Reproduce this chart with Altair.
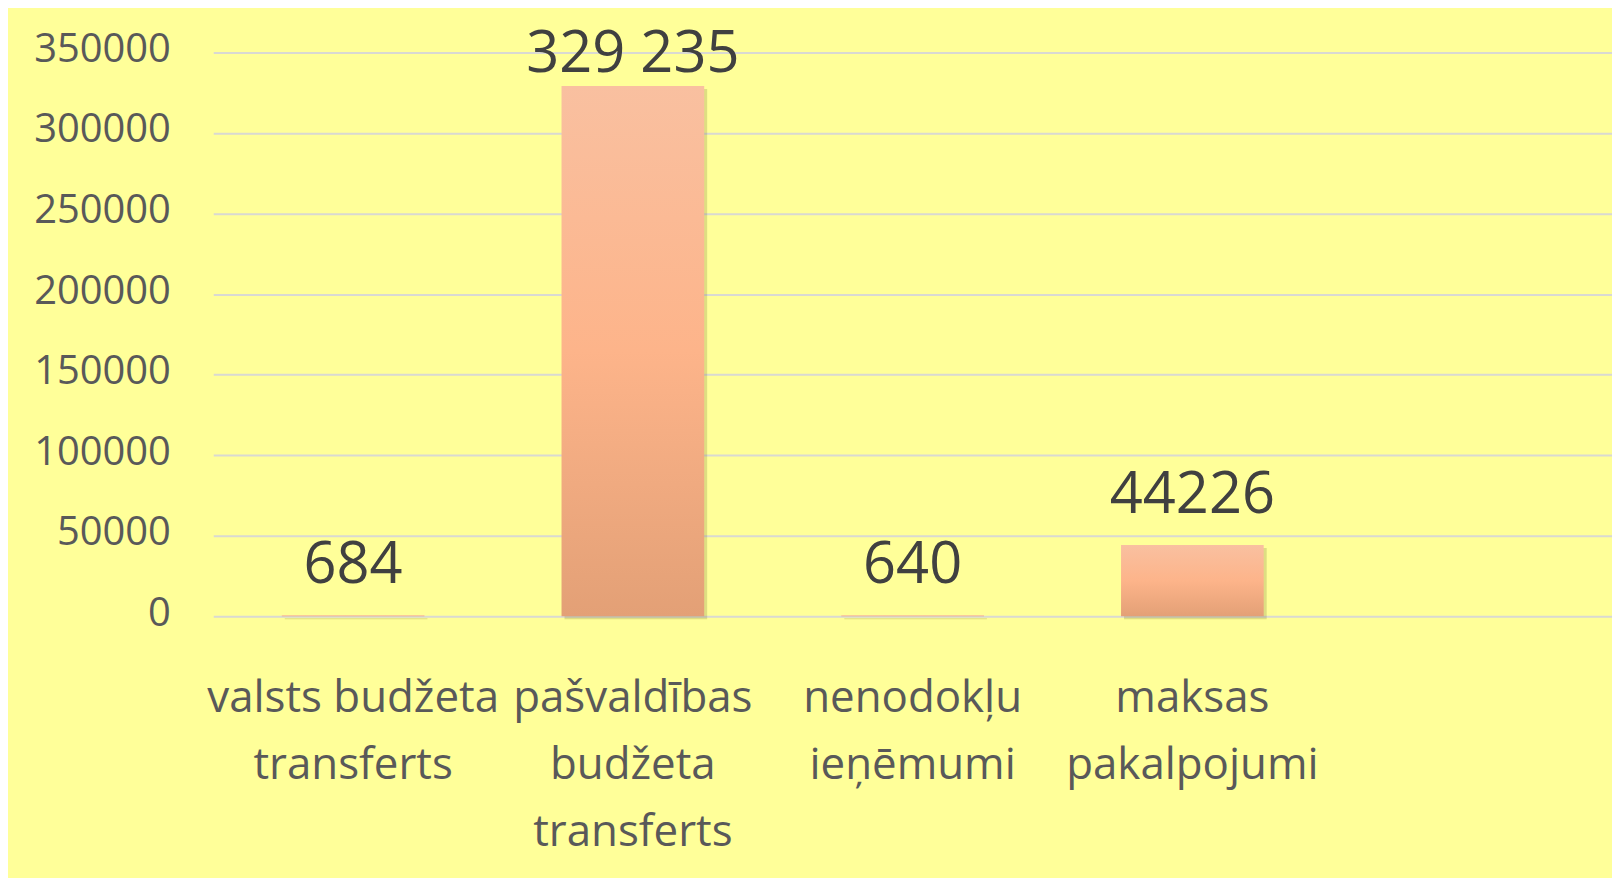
import altair as alt
import pandas as pd

categories = [
    "valsts budžeta\ntransferts",
    "pašvaldības\nbudžeta\ntransferts",
    "nenodokļu\nieņēmumi",
    "maksas\npakalpojumi",
    " ",
]
values = [684, 329235, 640, 44226]
value_labels = ["684", "329 235", "640", "44226"]
y_ticks = [0, 50000, 100000, 150000, 200000, 250000, 300000, 350000]

df = pd.DataFrame({
    "category": categories[:4],
    "value": values,
    "label": value_labels,
})

FONT = "Open Sans"

x_enc = alt.X(
    "category:N",
    sort=None,
    scale=alt.Scale(domain=categories, paddingInner=0.49, paddingOuter=0.245),
    axis=alt.Axis(
        title=None,
        labelAngle=0,
        labelExpr="split(datum.value, '\\n')",
        labelFont=FONT,
        labelFontSize=44,
        labelColor="#595959",
        labelLineHeight=67,
        labelPadding=61,
        labelBaseline="top",
        labelLimit=0,
        labelOverlap=False,
        labelBound=False,
        ticks=False,
        domain=False,
        grid=False,
    ),
)

y_scale = alt.Scale(domain=[0, 350000], nice=False)

bar_gradient = alt.Gradient(
    gradient="linear",
    stops=[
        alt.GradientStop(offset=0, color="#F9C0A0"),
        alt.GradientStop(offset=0.5, color="#FDB48A"),
        alt.GradientStop(offset=1, color="#E3A076"),
    ],
    x1=0, x2=0, y1=0, y2=1,
)

base = alt.Chart(df)

shadow = base.mark_bar(color="#6b6b30", opacity=0.22, xOffset=3, yOffset=3).encode(
    x=x_enc,
    y=alt.Y("value:Q", scale=y_scale),
)

bars = base.mark_bar(color=bar_gradient).encode(
    x=x_enc,
    y=alt.Y(
        "value:Q",
        scale=y_scale,
        axis=alt.Axis(
            title=None,
            values=y_ticks,
            format="d",
            labelFont=FONT,
            labelFontSize=40,
            labelColor="#595959",
            labelPadding=43,
            labelBaseline="alphabetic",
            labelOffset=9,
            ticks=False,
            domain=False,
            gridColor="#D9D9D2",
            gridWidth=2,
        ),
    ),
)

text = base.transform_calculate(
    label_pos="min(datum.value, 318000)"
).mark_text(
    font=FONT,
    fontSize=58,
    color="#404040",
    baseline="alphabetic",
    align="center",
    dy=-32,
).encode(
    x=x_enc,
    y=alt.Y("label_pos:Q", scale=y_scale),
    text="label:N",
)

chart = alt.layer(shadow, bars, text).properties(
    width=1404,
    height=566,
    padding={"left": 206, "top": 43, "right": 0, "bottom": 261},
    autosize=alt.AutoSizeParams(type="none"),
    background="#FFFF99",
).configure_view(stroke=None)

chart.save("out.html", embed_options={"renderer": "svg", "actions": False})
